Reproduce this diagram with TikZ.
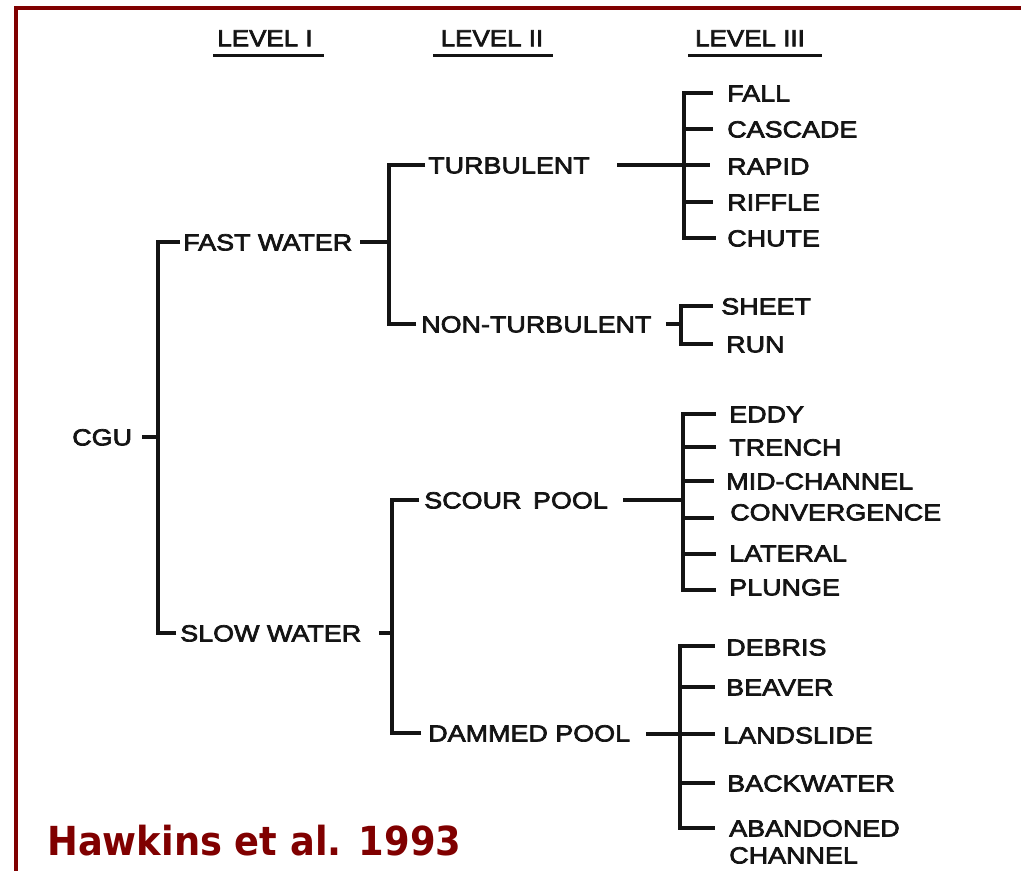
\documentclass[tikz,border=0pt]{standalone}
\usepackage{fontspec}
\setmainfont{Liberation Sans}
\newfontfamily\lblfont[FakeStretch=1.16,FakeBold=3]{Liberation Sans}
\newfontfamily\hdrfont[FakeStretch=1.12,FakeBold=3]{Liberation Sans}
\newfontfamily\hawkfont[FakeStretch=0.92]{DejaVu Sans Bold}
\usetikzlibrary{calc}
\definecolor{borderred}{RGB}{128,0,0}
\definecolor{inkblack}{RGB}{20,20,20}
\begin{document}
\begin{tikzpicture}[x=0.75pt,y=-0.75pt,
  lab/.style={anchor=west, inner sep=0pt, text height=12.6pt, text depth=0pt, text=inkblack,
    font=\lblfont\fontsize{17.4pt}{20.25pt}\selectfont},
  hd/.style={anchor=center, inner sep=0pt, text height=12.4pt, text depth=0pt, text=inkblack,
    font=\hdrfont\fontsize{17.4pt}{20pt}\selectfont},
  conn/.style={draw=inkblack, line width=2.3pt, line join=miter},
  ul/.style={draw=inkblack, line width=2.2pt},
  border/.style={draw=borderred, line width=3pt, line join=miter}
]
\useasboundingbox (0,0) rectangle (1021,871);
\fill[white] (0,0) rectangle (1021,871);
% frame
\coordinate (fTR) at (1021,8);
\coordinate (fBL) at (15.5,871);
\draw[border] (fTR) -| (fBL);

% headers
\node[hd] (lv1) at (265,38) {LEVEL I};
\node[hd] (lv2) at (492,38) {LEVEL II};
\node[hd] (lv3) at (750,38) {LEVEL III};
\draw[ul] ($(lv1.south)+(-52,9)$) -- ($(lv1.south)+(59,9)$);
\draw[ul] ($(lv2.south)+(-59,9)$) -- ($(lv2.south)+(61,9)$);
\draw[ul] ($(lv3.south)+(-62,9)$) -- ($(lv3.south)+(72,9)$);

% level I
\node[lab] (cgu) at (72,437) {CGU};
\node[lab] (fw) at (183,242) {FAST WATER};
\node[lab] (sw) at (180,633) {SLOW WATER};
\coordinate (j1) at (158,437);
\draw[conn] ($(cgu.east)+(10,0)$) -- (j1);
\draw[conn] ($(fw.west)+(-3,0)$) -| (j1);
\draw[conn] ($(sw.west)+(-4,0)$) -| (j1);

% level II fast
\node[lab] (tu) at (428,165) {TURBULENT};
\node[lab] (nt) at (421,324) {NON-TURBULENT};
\coordinate (j2) at (389,242);
\draw[conn] ($(fw.east)+(8,0)$) -- (j2);
\draw[conn] ($(tu.west)+(-3,0)$) -| (j2);
\draw[conn] ($(nt.west)+(-5,0)$) -| (j2);

% level II slow
\node[lab] (sp) at (424,500) {SCOUR\hspace{0.5em}POOL};
\node[lab] (dp) at (428,733) {DAMMED POOL};
\coordinate (j3) at (392,633);
\draw[conn] ($(sw.east)+(18,0)$) -- (j3);
\draw[conn] ($(sp.west)+(-5,0)$) -| (j3);
\draw[conn] ($(dp.west)+(-7,0)$) -| (j3);

% level III turbulent
\node[lab] (fall) at (727,93) {FALL};
\node[lab] (casc) at (727,129) {CASCADE};
\node[lab] (rapid) at (727,166) {RAPID};
\node[lab] (riff) at (727,202) {RIFFLE};
\node[lab] (chute) at (727,238) {CHUTE};
\coordinate (j4) at (684,165);
\draw[conn] ($(tu.east)+(27,0)$) -- (j4);
\draw[conn] (j4) |- ($(fall.west)+(-14,0)$);
\draw[conn] (j4) |- ($(casc.west)+(-14,0)$);
\draw[conn] (j4) -- ($(rapid.west)+(-17,-1)$);
\draw[conn] (j4) |- ($(riff.west)+(-14,0)$);
\draw[conn] (j4) |- ($(chute.west)+(-11,0)$);

% level III non-turbulent
\node[lab] (sheet) at (721,306) {SHEET};
\node[lab] (run) at (726,344) {RUN};
\coordinate (j5) at (681,324);
\draw[conn] ($(nt.east)+(14,0)$) -- (j5);
\draw[conn] (j5) |- ($(sheet.west)+(-8,0)$);
\draw[conn] (j5) |- ($(run.west)+(-13,0)$);

% level III scour pool
\node[lab] (eddy) at (729,414) {EDDY};
\node[lab] (trench) at (729,447) {TRENCH};
\node[lab] (mid) at (726,481) {MID-CHANNEL};
\node[lab] (conv) at (730,512) {CONVERGENCE};
\node[lab] (lat) at (729,553) {LATERAL};
\node[lab] (plunge) at (729,587) {PLUNGE};
\coordinate (j6) at (683,500);
\draw[conn] ($(sp.east)+(15,0)$) -- (j6);
\draw[conn] (j6) |- ($(eddy.west)+(-13,0)$);
\draw[conn] (j6) |- ($(trench.west)+(-13,0)$);
\draw[conn] (j6) |- ($(mid.west)+(-12,0)$);
\draw[conn] (j6) |- ($(conv.west)+(-16,6)$);
\draw[conn] (j6) |- ($(lat.west)+(-13,1)$);
\draw[conn] (j6) |- ($(plunge.west)+(-13,3)$);

% level III dammed pool
\node[lab] (debris) at (726,647) {DEBRIS};
\node[lab] (beaver) at (726,687) {BEAVER};
\node[lab] (land) at (723,735) {LANDSLIDE};
\node[lab] (back) at (727,783) {BACKWATER};
\node[lab] (aband) at (729,828) {ABANDONED};
\node[lab] (chan) at (729,855) {CHANNEL};
\coordinate (j7) at (680,734);
\draw[conn] ($(dp.east)+(16,1)$) -- (j7);
\draw[conn] (j7) |- ($(debris.west)+(-11,-1)$);
\draw[conn] (j7) |- ($(beaver.west)+(-11,0)$);
\draw[conn] (j7) -- ($(land.west)+(-8,-1)$);
\draw[conn] (j7) |- ($(back.west)+(-12,0)$);
\draw[conn] (j7) |- ($(aband.west)+(-14,0)$);

% citation
\node[anchor=west, inner sep=0pt, text height=21.9pt, text depth=0pt, text=borderred,
  font=\hawkfont\fontsize{30pt}{36pt}\selectfont] (ref) at (47,841) {Hawkins et al. 1993};
\end{tikzpicture}
\end{document}
